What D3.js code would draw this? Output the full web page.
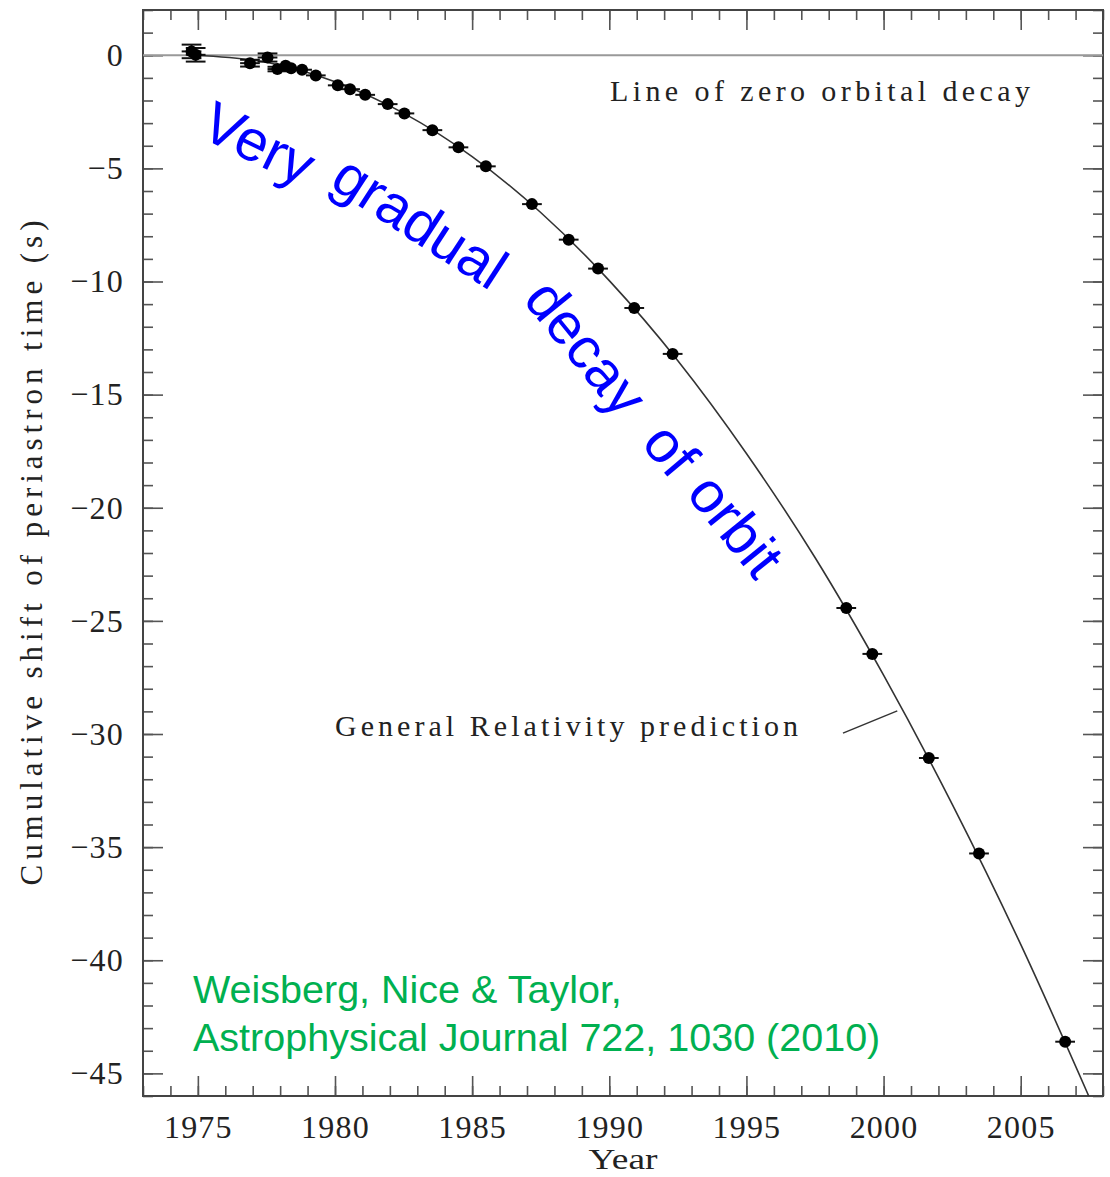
<!DOCTYPE html>
<html>
<head>
<meta charset="utf-8">
<script src="https://cdn.jsdelivr.net/npm/d3@7"></script>
<style>
  html, body { margin: 0; padding: 0; background: #fff; }
  svg { display: block; }
</style>
</head>
<body>
<svg id="chart" width="1110" height="1177"></svg>
<script>
// ---- data ----
const years  = [1974.77, 1974.92, 1976.90, 1977.54, 1977.90, 1978.20, 1978.40, 1978.80, 1979.30, 1980.10,
                1980.55, 1981.10, 1981.92, 1982.53, 1983.55, 1984.50, 1985.50, 1987.18, 1988.52, 1989.59,
                1990.91, 1992.31, 1998.64, 1999.59, 2001.65, 2003.48, 2006.62];
const shifts = [0.17, 0.02, -0.35, -0.10, -0.61, -0.46, -0.57, -0.64, -0.89, -1.33,
                -1.50, -1.75, -2.16, -2.57, -3.31, -4.07, -4.91, -6.58, -8.15, -9.43,
                -11.17, -13.20, -24.43, -26.46, -31.06, -35.28, -43.60];
const yErrors = [0.30, 0.30, 0.15, 0.18, 0.10, 0, 0, 0, 0, 0,
                 0, 0, 0, 0, 0, 0, 0, 0, 0, 0,
                 0, 0, 0, 0, 0, 0, 0];
const xErrors = [0.36, 0.36, 0.36, 0.36, 0.36, 0.36, 0.36, 0.36, 0.36, 0.36,
                 0.36, 0.36, 0.36, 0.36, 0.36, 0.36, 0.36, 0.36, 0.36, 0.36,
                 0.36, 0.36, 0.36, 0.36, 0.36, 0.36, 0.36];
// General Relativity prediction curve
const grYears  = [1974.9, 1977.5, 1980.0, 1982.5, 1985.0, 1987.5, 1990.0, 1992.5, 1995.0, 1997.5, 2000.0, 2002.5, 2005.0, 2007.48];
const grShifts = [0.0, -0.31, -1.17, -2.56, -4.48, -6.95, -9.96, -13.5, -17.6, -22.2, -27.4, -33.1, -39.3, -46.0];
const xTickLabels = [1975, 1980, 1985, 1990, 1995, 2000, 2005];
const yTickLabels = [0, -5, -10, -15, -20, -25, -30, -35, -40, -45];
const xTitle = "Year";
const yTitle = "Cumulative shift of periastron time (s)";
const zeroLabel = "Line of zero orbital decay";
const grLabel = "General Relativity prediction";
const blueWords = ["Very", "gradual", "decay", "of", "orbit"];
const citation = ["Weisberg, Nice & Taylor,", "Astrophysical Journal 722, 1030 (2010)"];

// ---- layout ----
const L = 143, R = 1103, T = 10, B = 1096;
const svg = d3.select("#chart");
const x = d3.scaleLinear().domain([1973, 2008]).range([L, R]);
const y = d3.scaleLinear().domain([-46, 2]).range([B, T]);

const serif = "'Liberation Serif', 'Times New Roman', serif";
const sans = "'Liberation Sans', Arial, sans-serif";
const tickColor = "#555";

const minorX = d3.range(1973, 2009, 1);
const minorY = d3.range(-46, 3, 1);

function styleAxis(g) {
  g.select(".domain").remove();
  g.selectAll(".tick line").attr("stroke", tickColor).attr("stroke-width", 1.6);
  g.selectAll(".tick text").attr("fill", "#222").attr("font-family", serif).attr("font-size", 32);
}

// bottom
svg.append("g").attr("transform", `translate(0,${B})`)
  .call(d3.axisBottom(x).tickValues(minorX).tickSize(-10).tickFormat(""))
  .call(styleAxis);
const bx = svg.append("g").attr("transform", `translate(0,${B})`)
  .call(d3.axisBottom(x).tickValues(xTickLabels).tickSize(-20).tickPadding(19).tickFormat(d3.format("d")))
  .call(styleAxis);
bx.selectAll(".tick text").attr("letter-spacing", 1.2);
// top
svg.append("g").attr("transform", `translate(0,${T})`)
  .call(d3.axisTop(x).tickValues(minorX).tickSize(-10).tickFormat(""))
  .call(styleAxis);
svg.append("g").attr("transform", `translate(0,${T})`)
  .call(d3.axisTop(x).tickValues(xTickLabels).tickSize(-20).tickFormat(""))
  .call(styleAxis);
// left
svg.append("g").attr("transform", `translate(${L},0)`)
  .call(d3.axisLeft(y).tickValues(minorY).tickSize(-10).tickFormat(""))
  .call(styleAxis);
const ly = svg.append("g").attr("transform", `translate(${L},0)`)
  .call(d3.axisLeft(y).tickValues(yTickLabels).tickSize(-20).tickPadding(19).tickFormat(d => d < 0 ? "\u2212" + Math.abs(d) : d))
  .call(styleAxis);
ly.selectAll(".tick text").attr("letter-spacing", 1.2);
// right
svg.append("g").attr("transform", `translate(${R},0)`)
  .call(d3.axisRight(y).tickValues(minorY).tickSize(-10).tickFormat(""))
  .call(styleAxis);
svg.append("g").attr("transform", `translate(${R},0)`)
  .call(d3.axisRight(y).tickValues(yTickLabels).tickSize(-20).tickFormat(""))
  .call(styleAxis);

// frame
svg.append("rect").attr("x", L).attr("y", T).attr("width", R - L).attr("height", B - T)
  .attr("fill", "none").attr("stroke", "#444").attr("stroke-width", 2);

// zero line
svg.append("line").attr("x1", L).attr("x2", R).attr("y1", y(0)).attr("y2", y(0))
  .attr("stroke", "#999").attr("stroke-width", 2);

// GR curve
const grData = grYears.map((t, i) => [t, grShifts[i]]);
svg.append("path").datum(grData)
  .attr("d", d3.line().x(d => x(d[0])).y(d => y(d[1])).curve(d3.curveMonotoneX))
  .attr("fill", "none").attr("stroke", "#333").attr("stroke-width", 1.6);

// data points
const pts = years.map((t, i) => ({ t, s: shifts[i], ey: yErrors[i], ex: xErrors[i] }));
const pg = svg.append("g");
pg.selectAll("line.h").data(pts).join("line").attr("class", "h")
  .attr("x1", d => x(d.t - d.ex)).attr("x2", d => x(d.t + d.ex))
  .attr("y1", d => y(d.s)).attr("y2", d => y(d.s))
  .attr("stroke", "#111").attr("stroke-width", 2);
const withErr = pts.filter(d => d.ey > 0);
pg.selectAll("line.v").data(withErr).join("line").attr("class", "v")
  .attr("x1", d => x(d.t)).attr("x2", d => x(d.t))
  .attr("y1", d => y(d.s - d.ey)).attr("y2", d => y(d.s + d.ey))
  .attr("stroke", "#111").attr("stroke-width", 2);
pg.selectAll("line.ct").data(withErr).join("line").attr("class", "ct")
  .attr("x1", d => x(d.t - d.ex)).attr("x2", d => x(d.t + d.ex))
  .attr("y1", d => y(d.s + d.ey)).attr("y2", d => y(d.s + d.ey))
  .attr("stroke", "#111").attr("stroke-width", 2);
pg.selectAll("line.cb").data(withErr).join("line").attr("class", "cb")
  .attr("x1", d => x(d.t - d.ex)).attr("x2", d => x(d.t + d.ex))
  .attr("y1", d => y(d.s - d.ey)).attr("y2", d => y(d.s - d.ey))
  .attr("stroke", "#111").attr("stroke-width", 2);
pg.selectAll("circle").data(pts).join("circle")
  .attr("cx", d => x(d.t)).attr("cy", d => y(d.s)).attr("r", 6).attr("fill", "#000");

// axis titles
svg.append("text").attr("x", (L + R) / 2).attr("y", 1169).attr("text-anchor", "middle")
  .attr("font-family", serif).attr("font-size", 29).attr("fill", "#222")
  .attr("textLength", 69).attr("lengthAdjust", "spacingAndGlyphs").text(xTitle);
svg.append("text").attr("transform", `translate(42,${(T + B) / 2}) rotate(-90)`).attr("text-anchor", "middle")
  .attr("font-family", serif).attr("font-size", 31).attr("fill", "#222")
  .attr("textLength", 665).attr("lengthAdjust", "spacing").text(yTitle);

// annotations
svg.append("text").attr("x", 610).attr("y", 101).attr("font-family", serif).attr("font-size", 30)
  .attr("fill", "#222").attr("textLength", 420).attr("lengthAdjust", "spacing").text(zeroLabel);
svg.append("text").attr("x", 335).attr("y", 736).attr("font-family", serif).attr("font-size", 30)
  .attr("fill", "#222").attr("textLength", 463).attr("lengthAdjust", "spacing").text(grLabel);
svg.append("line").attr("x1", x(1998.52)).attr("y1", y(-29.96)).attr("x2", x(2000.5)).attr("y2", y(-28.98))
  .attr("stroke", "#333").attr("stroke-width", 1.5);

// blue annotation, word by word along the curve
const wordPos = [[198, 136, 26], [328, 186, 33], [522, 300, 51], [640, 444, 50], [685, 494, 51]];
svg.append("g").selectAll("text").data(blueWords).join("text")
  .attr("transform", (d, i) => `translate(${wordPos[i][0]},${wordPos[i][1]}) rotate(${wordPos[i][2]})`)
  .attr("font-family", sans).attr("font-size", 58).attr("fill", "#0000ff").text(d => d);

// citation
svg.append("g").selectAll("text").data(citation).join("text")
  .attr("x", 193).attr("y", (d, i) => 1003 + i * 48)
  .attr("font-family", sans).attr("font-size", 39.5).attr("fill", "#00b050").text(d => d);
</script>
</body>
</html>
